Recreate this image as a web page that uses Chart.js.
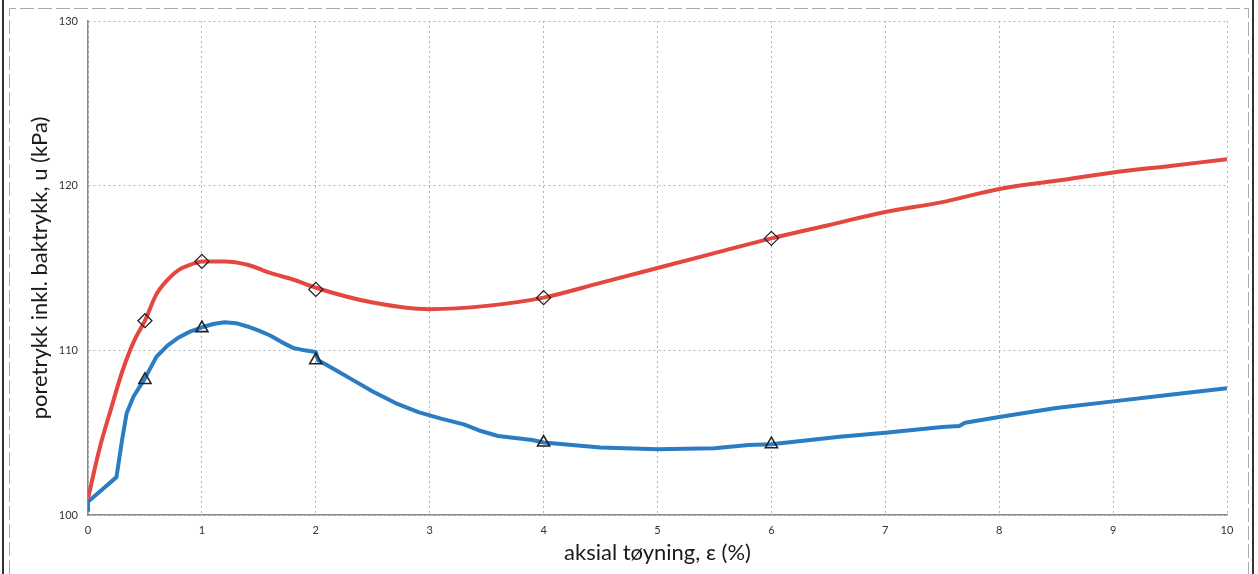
<!DOCTYPE html>
<html>
<head>
<meta charset="utf-8">
<script src="https://cdn.jsdelivr.net/npm/chart.js@4/dist/chart.umd.min.js"></script>
<style>
  html, body { margin: 0; padding: 0; background: #fff; }
  #wrap { width: 1258px; height: 574px; position: relative; }
</style>
</head>
<body>
<div id="wrap"><canvas id="c"></canvas></div>
<script>
// strain (%) and pore pressure (kPa) for the two curves
const redStrain = [0, 0.1, 0.2, 0.3, 0.4, 0.5, 0.6, 0.7, 0.8, 0.9, 1.0, 1.2, 1.4, 1.6, 1.8, 2.0, 2.5, 3.0, 3.5, 4.0, 4.5, 5.0, 5.5, 6.0, 6.5, 7.0, 7.5, 8.0, 8.5, 9.0, 9.5, 10.0];
const redU      = [101.0, 104.0, 106.4, 108.7, 110.5, 111.8, 113.4, 114.3, 114.9, 115.2, 115.4, 115.4, 115.2, 114.7, 114.3, 113.8, 112.9, 112.5, 112.7, 113.2, 114.1, 115.0, 115.9, 116.8, 117.6, 118.4, 119.0, 119.8, 120.3, 120.8, 121.2, 121.6];

const blueStrain = [0, 0, 0.25, 0.3, 0.34, 0.4, 0.5, 0.6, 0.7, 0.8, 0.9, 1.0, 1.1, 1.2, 1.3, 1.4, 1.5, 1.6, 1.7, 1.8, 1.9, 2.0, 2.02, 2.1, 2.2, 2.35, 2.5, 2.7, 2.9, 3.1, 3.3, 3.45, 3.6, 3.9, 4.0, 4.5, 5.0, 5.5, 5.8, 6.0, 6.6, 7.0, 7.5, 7.65, 7.7, 8.0, 8.5, 9.0, 9.5, 10.0];
const blueU      = [100.2, 100.8, 102.3, 104.6, 106.2, 107.2, 108.3, 109.6, 110.3, 110.8, 111.15, 111.4, 111.6, 111.7, 111.65, 111.45, 111.2, 110.9, 110.5, 110.15, 110.0, 109.9, 109.4, 109.1, 108.7, 108.1, 107.5, 106.8, 106.25, 105.85, 105.5, 105.1, 104.8, 104.55, 104.4, 104.1, 104.0, 104.05, 104.25, 104.3, 104.75, 105.0, 105.35, 105.4, 105.6, 105.95, 106.5, 106.9, 107.3, 107.7];

// marker points on each curve
const markStrain = [0.5, 1, 2, 4, 6];
const redMarks   = [111.8, 115.4, 113.7, 113.2, 116.8];
const blueMarks  = [108.2, 111.35, 109.4, 104.4, 104.3];

const xTicks = [0, 1, 2, 3, 4, 5, 6, 7, 8, 9, 10];
const yTicks = [100, 110, 120, 130];

const toXY = (xs, ys) => xs.map((x, i) => ({ x, y: ys[i] }));

const RED = '#e3473f';
const BLUE = '#2a7cc3';
const FONT = "Lato, 'Open Sans', sans-serif";

// page frame round the plot
const frame = {
  id: 'frame',
  beforeDraw(chart) {
    const { ctx, width, height } = chart;
    ctx.save();
    ctx.fillStyle = '#fff';
    ctx.fillRect(0, 0, width, height);
    ctx.strokeStyle = '#333';
    ctx.lineWidth = 2;
    ctx.beginPath();
    ctx.moveTo(3, 0); ctx.lineTo(3, height);
    ctx.moveTo(width - 5, 0); ctx.lineTo(width - 5, height);
    ctx.stroke();
    ctx.strokeStyle = '#aaa';
    ctx.lineWidth = 1;
    ctx.setLineDash([14, 4]);
    ctx.beginPath();
    ctx.moveTo(9.5, height); ctx.lineTo(9.5, 8.5); ctx.lineTo(width - 9.5, 8.5); ctx.lineTo(width - 9.5, height);
    ctx.stroke();
    ctx.restore();
  }
};

new Chart(document.getElementById('c'), {
  type: 'scatter',
  data: {
    datasets: [
      { data: toXY(redStrain, redU), showLine: true, borderColor: RED, borderWidth: 4, pointRadius: 0, cubicInterpolationMode: 'monotone', order: 3 },
      { data: toXY(blueStrain, blueU), showLine: true, borderColor: BLUE, borderWidth: 4, pointRadius: 0, borderJoinStyle: 'round', order: 3 },
      { data: toXY(markStrain, redMarks), pointStyle: 'rectRot', pointRadius: 7, borderColor: '#222', borderWidth: 1.3, backgroundColor: 'rgba(255,255,255,0)', order: 1 },
      { data: toXY(markStrain, blueMarks), pointStyle: 'triangle', pointRadius: 7, borderColor: '#222', borderWidth: 1.6, backgroundColor: 'rgba(255,255,255,0)', order: 1 }
    ]
  },
  options: {
    responsive: true, maintainAspectRatio: false,
    animation: false,
    layout: { padding: { top: 21, right: 31, left: 0, bottom: 0 } },
    plugins: { legend: { display: false }, tooltip: { enabled: false } },
    scales: {
      x: {
        type: 'linear', min: 0, max: 10,
        afterBuildTicks: s => { s.ticks = xTicks.map(v => ({ value: v })); },
        afterFit: s => { s.height = 59; },
        grid: { color: '#b5b5b5', lineWidth: 1, drawTicks: false },
        border: { display: true, color: '#8a8a8a', width: 1.5, dash: [2, 3] },
        ticks: { color: '#333', font: { family: FONT, size: 11 }, padding: 9, maxRotation: 0 },
        title: { display: true, text: 'aksial tøyning, ε (%)', color: '#1a1a1a', font: { family: FONT, size: 22 }, padding: { top: 4, bottom: 8 } }
      },
      y: {
        type: 'linear', min: 100, max: 130,
        afterBuildTicks: s => { s.ticks = yTicks.map(v => ({ value: v })); },
        afterFit: s => { s.width = 88; },
        grid: { color: '#b5b5b5', lineWidth: 1, drawTicks: false },
        border: { display: true, color: '#8a8a8a', width: 1.5, dash: [2, 3] },
        ticks: { color: '#333', font: { family: FONT, size: 11 }, padding: 10 },
        title: { display: true, text: 'poretrykk inkl. baktrykk, u (kPa)', color: '#1a1a1a', font: { family: FONT, size: 22 }, padding: { top: 27, bottom: 4 } }
      }
    }
  },
  plugins: [frame]
});
</script>
</body>
</html>
